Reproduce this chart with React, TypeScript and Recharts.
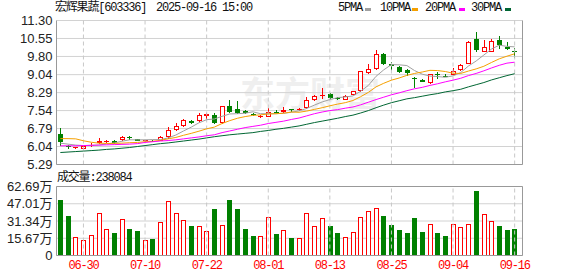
import React from 'react';
import { ComposedChart, Bar, Line, XAxis, YAxis, CartesianGrid, ReferenceLine } from 'recharts';

// trading days shown in the window
const dates = [
  '06-25', '06-26', '06-27', '06-30',
  '07-01', '07-02', '07-03', '07-04', '07-07', '07-08', '07-09', '07-10', '07-11', '07-14', '07-15',
  '07-16', '07-17', '07-18', '07-21', '07-22', '07-23', '07-24', '07-25', '07-28', '07-29', '07-30', '07-31',
  '08-01', '08-04', '08-05', '08-06', '08-07', '08-08', '08-11', '08-12', '08-13', '08-14', '08-15',
  '08-18', '08-19', '08-20', '08-21', '08-22', '08-25', '08-26', '08-27', '08-28', '08-29',
  '09-01', '09-02', '09-03', '09-04', '09-05', '09-08', '09-09', '09-10', '09-11', '09-12', '09-15', '09-16',
];

const open = [
  6.58, 6.08, 5.99, 5.94, 6.06, 6.17, 6.22, 6.27, 6.30, 6.42,
  6.35, 6.27, 6.28, 6.29, 6.43, 6.74, 6.89, 7.10, 7.10, 7.33,
  7.35, 7.03, 7.74, 7.59, 7.51, 7.41, 7.27, 7.28, 7.47, 7.50,
  7.59, 7.55, 7.63, 7.97, 8.18, 8.23, 8.06, 8.00, 8.21, 8.35,
  9.12, 9.28, 9.90, 9.47, 9.38, 9.25, 8.91, 8.80, 8.70, 9.08,
  9.00, 9.03, 9.23, 9.49, 10.51, 10.00, 10.00, 10.47, 10.19, 10.03,
];
const high = [
  6.81, 6.11, 6.04, 6.06, 6.20, 6.39, 6.33, 6.31, 6.49, 6.46,
  6.37, 6.33, 6.31, 6.50, 6.85, 7.01, 7.20, 7.14, 7.42, 7.45,
  7.45, 7.74, 7.99, 7.92, 7.56, 7.46, 7.37, 7.66, 7.55, 7.70,
  7.62, 7.66, 8.12, 8.17, 8.50, 8.28, 8.09, 8.17, 8.37, 9.20,
  9.50, 10.06, 9.95, 9.56, 9.42, 9.28, 8.93, 8.84, 9.08, 9.14,
  9.08, 9.30, 9.47, 10.43, 10.83, 10.48, 10.51, 10.67, 10.40, 10.16,
];
const low = [
  6.08, 5.92, 5.95, 5.93, 6.02, 6.15, 6.20, 6.15, 6.28, 6.33,
  6.26, 6.24, 6.22, 6.27, 6.36, 6.67, 6.86, 6.98, 7.08, 7.20,
  6.96, 7.00, 7.42, 7.40, 7.38, 7.30, 7.22, 7.26, 7.40, 7.46,
  7.50, 7.52, 7.60, 7.95, 8.02, 8.04, 7.98, 7.98, 8.18, 8.33,
  9.08, 9.25, 9.43, 9.18, 9.10, 8.98, 8.49, 8.72, 8.67, 8.84,
  8.93, 9.02, 9.20, 9.47, 9.99, 9.98, 9.98, 10.13, 10.07, 9.74,
];
const close = [
  6.22, 6.05, 6.02, 6.05, 6.12, 6.28, 6.28, 6.20, 6.42, 6.40,
  6.28, 6.30, 6.25, 6.43, 6.74, 6.89, 7.14, 7.03, 7.35, 7.38,
  7.03, 7.72, 7.50, 7.43, 7.45, 7.36, 7.33, 7.47, 7.44, 7.56,
  7.55, 7.62, 8.00, 8.13, 8.18, 8.08, 8.02, 8.14, 8.34, 9.18,
  9.28, 9.92, 9.50, 9.42, 9.15, 9.12, 8.84, 8.75, 9.05, 9.02,
  8.97, 9.18, 9.44, 10.41, 10.05, 10.20, 10.44, 10.27, 10.13, 9.98,
];
// volume in 万 shares
const volume = [
  50.0, 35.6, 17.2, 14.5, 19.0, 38.9, 24.4, 20.2, 33.4, 23.8,
  22.0, 14.5, 14.8, 30.7, 49.7, 38.9, 32.5, 26.5, 27.1, 22.0,
  42.5, 28.0, 50.0, 41.9, 23.8, 17.5, 18.1, 35.3, 19.3, 23.5,
  15.7, 16.3, 38.9, 27.1, 34.3, 26.5, 20.2, 17.2, 21.1, 35.3,
  40.7, 43.4, 35.6, 27.4, 22.9, 20.2, 33.7, 21.1, 28.9, 20.2,
  17.5, 28.9, 26.2, 28.9, 58.2, 38.0, 31.6, 26.5, 22.9, 23.81,
];

const ma5 = [
  6.18, 6.14, 6.10, 6.08, 6.09, 6.10, 6.15, 6.19, 6.26, 6.32,
  6.32, 6.32, 6.33, 6.33, 6.40, 6.52, 6.69, 6.85, 7.03, 7.16,
  7.19, 7.30, 7.40, 7.41, 7.43, 7.49, 7.41, 7.41, 7.41, 7.43,
  7.47, 7.53, 7.63, 7.77, 7.90, 8.00, 8.08, 8.11, 8.15, 8.35,
  8.59, 8.97, 9.24, 9.46, 9.45, 9.42, 9.21, 9.06, 8.98, 8.96,
  8.93, 8.99, 9.13, 9.40, 9.61, 9.86, 10.11, 10.27, 10.22, 10.20,
];
const ma10 = [
  6.37, 6.37, 6.36, 6.28, 6.22, 6.18, 6.17, 6.17, 6.18, 6.20,
  6.21, 6.24, 6.26, 6.30, 6.36, 6.42, 6.51, 6.59, 6.68, 6.78,
  6.85, 7.00, 7.12, 7.22, 7.29, 7.34, 7.36, 7.40, 7.41, 7.43,
  7.48, 7.47, 7.52, 7.59, 7.66, 7.74, 7.81, 7.87, 7.96, 8.12,
  8.30, 8.53, 8.68, 8.81, 8.90, 9.01, 9.09, 9.15, 9.22, 9.21,
  9.17, 9.10, 9.09, 9.19, 9.28, 9.39, 9.55, 9.70, 9.81, 9.91,
];
const ma20 = [
  6.07, 6.07, 6.07, 6.08, 6.09, 6.10, 6.11, 6.12, 6.13, 6.14,
  6.16, 6.21, 6.24, 6.27, 6.29, 6.32, 6.36, 6.40, 6.44, 6.49,
  6.53, 6.62, 6.69, 6.76, 6.83, 6.88, 6.93, 7.00, 7.05, 7.10,
  7.17, 7.23, 7.32, 7.41, 7.48, 7.54, 7.58, 7.64, 7.69, 7.78,
  7.89, 8.00, 8.10, 8.20, 8.28, 8.37, 8.45, 8.51, 8.59, 8.66,
  8.74, 8.81, 8.89, 9.00, 9.09, 9.20, 9.32, 9.43, 9.52, 9.56,
];
const ma30 = [
  5.79, 5.81, 5.83, 5.85, 5.87, 5.89, 5.92, 5.94, 5.97, 6.00,
  6.04, 6.08, 6.12, 6.16, 6.19, 6.23, 6.27, 6.31, 6.35, 6.40,
  6.45, 6.49, 6.53, 6.56, 6.59, 6.62, 6.67, 6.71, 6.76, 6.80,
  6.85, 6.90, 6.97, 7.04, 7.10, 7.16, 7.22, 7.29, 7.35, 7.44,
  7.54, 7.66, 7.77, 7.87, 7.95, 8.03, 8.08, 8.14, 8.20, 8.25,
  8.32, 8.37, 8.43, 8.53, 8.62, 8.71, 8.82, 8.91, 9.00, 9.08,
];

const dateTicks = ['06-30', '07-10', '07-22', '08-01', '08-13', '08-25', '09-04', '09-16'];
const priceTicks = [5.29, 6.04, 6.79, 7.54, 8.29, 9.04, 9.80, 10.55, 11.30];
const volumeTicks = [0, 15.67, 31.34, 47.01, 62.69];

const legendItems = [
  { label: '5PMA', color: '#a0a0a0' },
  { label: '10PMA', color: '#f5a000' },
  { label: '20PMA', color: '#ff00ff' },
  { label: '30PMA', color: '#006633' },
];

const RED = '#ff0000';
const GREEN = '#008000';
const GRID = '#d2d2d2';
const BORDER = '#999999';
const FONT = '"Liberation Sans", Arial, "Noto Sans CJK SC", sans-serif';
const MONO = '"Liberation Mono", "DejaVu Sans Mono", "Noto Sans CJK SC", monospace';

const data = dates.map((date, i) => ({
  date,
  open: open[i],
  high: high[i],
  low: low[i],
  close: close[i],
  range: [low[i], high[i]],
  vol: volume[i],
  // flat candles take their colour from the previous close
  up: close[i] > open[i] || (close[i] === open[i] && (i === 0 || close[i] >= close[i - 1])),
  ma5: ma5[i],
  ma10: ma10[i],
  ma20: ma20[i],
  ma30: ma30[i],
}));

const Candle = (props: any) => {
  const { x, y, width, height, payload } = props;
  if (!payload) return null;
  const { open: o, close: c, high: h, low: l, up } = payload;
  const k = h > l ? height / (h - l) : 0;
  const toY = (v: number) => y + (h - v) * k;
  const cx = Math.round(x + width / 2);
  const color = up ? RED : GREEN;
  const yTop = Math.round(toY(Math.max(o, c)));
  const yBot = Math.round(toY(Math.min(o, c)));
  return (
    <g>
      <line x1={cx + 0.5} x2={cx + 0.5} y1={Math.round(toY(h))} y2={Math.round(toY(l))} stroke={color} />
      {yBot - yTop < 2 ? (
        <line x1={cx - 2} x2={cx + 3} y1={yTop + 0.5} y2={yTop + 0.5} stroke={color} />
      ) : up ? (
        <rect x={cx - 1.5} y={yTop + 0.5} width={4} height={yBot - yTop - 1} fill="#fff" stroke={color} />
      ) : (
        <rect x={cx - 2} y={yTop} width={5} height={yBot - yTop} fill={color} />
      )}
    </g>
  );
};

const VolBar = (props: any) => {
  const { x, y, width, height, payload } = props;
  if (!payload) return null;
  const cx = Math.round(x + width / 2);
  const top = Math.round(y);
  const bottom = Math.round(y + height);
  if (payload.up) {
    return <rect x={cx - 1.5} y={top + 0.5} width={4} height={bottom - top - 1} fill="#fff" stroke={RED} />;
  }
  return <rect x={cx - 2} y={top} width={5} height={bottom - top} fill={GREEN} />;
};

const yTick = { fontSize: 13, fill: '#222', fontFamily: FONT };

export default function App() {
  return (
    <div style={{ position: 'absolute', left: 0, top: 0, width: 578, height: 276, background: '#fff', overflow: 'hidden' }}>
      <div style={{ position: 'absolute', left: 240, top: 72, fontSize: 35, fontWeight: 700, color: '#efefef', fontFamily: '"Noto Sans CJK SC", sans-serif', lineHeight: '40px' }}>
        东方财富
      </div>

      <div style={{ position: 'absolute', left: 55, top: 0, fontSize: 12, lineHeight: '17px', fontFamily: MONO, letterSpacing: -1.2, color: '#111', whiteSpace: 'pre' }}>
        宏辉果蔬[603336]
      </div>
      <div style={{ position: 'absolute', left: 156, top: 0, fontSize: 12, lineHeight: '17px', fontFamily: MONO, letterSpacing: -1.2, color: '#111', whiteSpace: 'pre' }}>
        2025-09-16 15:00
      </div>

      {legendItems.map((item, i) => (
        <React.Fragment key={item.label}>
          <div style={{ position: 'absolute', left: [338, 380, 425, 471][i], top: 0, fontSize: 12, lineHeight: '17px', fontFamily: MONO, letterSpacing: -1.2, color: '#111' }}>
            {item.label}
          </div>
          <div style={{ position: 'absolute', left: [365, 412, 459, 505][i], top: 8, width: 6, height: 3, background: item.color }} />
        </React.Fragment>
      ))}

      <div style={{ position: 'absolute', left: 0, top: 0 }}>
        <ComposedChart width={578} height={180} data={data} margin={{ top: 20.5, right: 0, bottom: 15.5, left: 0 }}>
          <CartesianGrid vertical={false} stroke={GRID} />
          {dateTicks.map((d) => (
            <ReferenceLine key={d} x={d} stroke="#c8c8c8" strokeDasharray="4 3" />
          ))}
          <ReferenceLine y={5.29} stroke={BORDER} />
          <XAxis dataKey="date" hide padding={{ left: 0, right: 4 }} />
          <YAxis
            domain={[5.29, 11.3]}
            allowDataOverflow
            ticks={priceTicks}
            interval={0}
            tickFormatter={(v: number) => v.toFixed(2)}
            width={56.5}
            tick={yTick}
            tickLine={false}
            tickSize={0}
            tickMargin={4}
            axisLine={{ stroke: BORDER }}
          />
          <YAxis yAxisId="right" orientation="right" width={55.5} domain={[0, 1]} tick={false} tickLine={false} axisLine={{ stroke: BORDER }} />
          <Bar dataKey="range" barSize={5} shape={<Candle />} isAnimationActive={false} />
          <Line dataKey="ma5" stroke="#a0a0a0" strokeWidth={1} dot={false} type="linear" isAnimationActive={false} />
          <Line dataKey="ma10" stroke="#f5a000" strokeWidth={1} dot={false} type="linear" isAnimationActive={false} />
          <Line dataKey="ma20" stroke="#ff00ff" strokeWidth={1} dot={false} type="linear" isAnimationActive={false} />
          <Line dataKey="ma30" stroke="#006633" strokeWidth={1} dot={false} type="linear" isAnimationActive={false} />
        </ComposedChart>
      </div>

      <div style={{ position: 'absolute', left: 57, top: 170, fontSize: 12, lineHeight: '17px', fontFamily: MONO, letterSpacing: -1.2, color: '#111', whiteSpace: 'pre' }}>
        成交量:238084
      </div>

      <div style={{ position: 'absolute', left: 0, top: 170 }}>
        <ComposedChart width={578} height={106} data={data} margin={{ top: 16.5, right: 0, bottom: 0, left: 0 }}>
          <CartesianGrid vertical={false} stroke={GRID} />
          {dateTicks.map((d) => (
            <ReferenceLine key={d} x={d} stroke="#c8c8c8" strokeDasharray="4 3" />
          ))}
          <ReferenceLine y={62.69} stroke={BORDER} />
          <XAxis
            dataKey="date"
            ticks={dateTicks}
            interval={0}
            height={20.5}
            padding={{ left: 0, right: 4 }}
            tick={{ fontSize: 12, fill: RED, fontFamily: MONO, letterSpacing: -1.2 }}
            tickLine={false}
            tickSize={0}
            tickMargin={5}
            axisLine={{ stroke: BORDER }}
          />
          <YAxis
            domain={[0, 62.69]}
            allowDataOverflow
            ticks={volumeTicks}
            interval={0}
            tickFormatter={(v: number) => (v === 0 ? '0' : v.toFixed(2) + '万')}
            width={56.5}
            tick={yTick}
            tickLine={false}
            tickSize={0}
            tickMargin={4}
            axisLine={{ stroke: BORDER }}
          />
          <YAxis yAxisId="right" orientation="right" width={55.5} domain={[0, 1]} tick={false} tickLine={false} axisLine={{ stroke: BORDER }} />
          <Bar dataKey="vol" barSize={5} shape={<VolBar />} isAnimationActive={false} />
        </ComposedChart>
      </div>
    </div>
  );
}
